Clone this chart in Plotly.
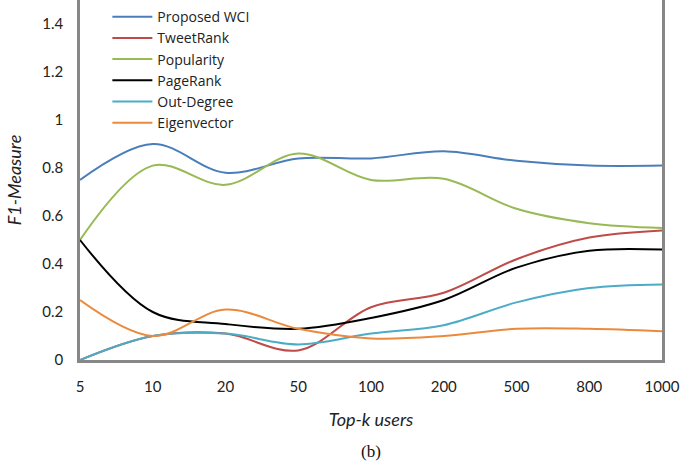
import plotly.graph_objects as go

# Top-k cut-offs on the horizontal axis
top_k = ["5", "10", "20", "50", "100", "200", "500", "800", "1000"]

# F1-measure per ranking method
proposed_wci = [0.75, 0.90, 0.78, 0.84, 0.84, 0.87, 0.83, 0.81, 0.81]
tweetrank = [0.00, 0.10, 0.11, 0.04, 0.22, 0.28, 0.42, 0.51, 0.54]
popularity = [0.50, 0.81, 0.73, 0.86, 0.75, 0.755, 0.63, 0.57, 0.55]
pagerank = [0.50, 0.20, 0.15, 0.13, 0.175, 0.25, 0.385, 0.455, 0.46]
out_degree = [0.00, 0.10, 0.11, 0.065, 0.11, 0.145, 0.24, 0.30, 0.315]
eigenvector = [0.25, 0.10, 0.21, 0.13, 0.09, 0.10, 0.13, 0.13, 0.12]

series = [
    ("Proposed WCI", proposed_wci, "#4A7EBB"),
    ("TweetRank", tweetrank, "#BE4B48"),
    ("Popularity", popularity, "#98B954"),
    ("PageRank", pagerank, "#000000"),
    ("Out-Degree", out_degree, "#4BACC6"),
    ("Eigenvector", eigenvector, "#EB8A3C"),
]

FONT = "Lato, 'Open Sans', sans-serif"
LEGEND_FONT = "'Open Sans', Lato, sans-serif"

fig = go.Figure()
for name, values, color in series:
    fig.add_trace(go.Scatter(
        x=top_k, y=values, name=name, mode="lines",
        line=dict(color=color, width=2, shape="spline", smoothing=1.0),
    ))

fig.update_layout(
    width=699, height=467,
    margin=dict(l=80, r=37, t=0, b=107),
    paper_bgcolor="white", plot_bgcolor="white",
    font=dict(family=FONT, size=15, color="#222222"),
    showlegend=True,
    legend=dict(
        x=0.047, y=0.997, xanchor="left", yanchor="top",
        bgcolor="rgba(0,0,0,0)", font=dict(family=LEGEND_FONT, size=14, color="#222222"),
        itemwidth=40, tracegroupgap=0,
    ),
    xaxis=dict(
        type="category", range=[0, 8],
        showgrid=False, zeroline=False,
        showline=True, linecolor="#878787", linewidth=2.5,
        ticks="", ticklabelstandoff=11,
        tickfont=dict(family=FONT, size=15, color="#222222"),
        title=dict(text="<i>Top-k users</i>", standoff=20,
                   font=dict(family=FONT, size=18, color="#222222")),
    ),
    yaxis=dict(
        range=[0, 1.5], dtick=0.2, tick0=0,
        showgrid=False, zeroline=False,
        showline=True, linecolor="#878787", linewidth=2.5, mirror=True,
        ticks="", ticklabelstandoff=11,
        tickfont=dict(family=FONT, size=15, color="#222222"),
        title=dict(text="<i>F1-Measure</i>", standoff=16,
                   font=dict(family=FONT, size=18, color="#222222")),
    ),
)

fig.add_annotation(
    text="(b)", xref="paper", yref="paper",
    x=0.5, y=-0.255, xanchor="center", yanchor="middle", showarrow=False,
    font=dict(family="'Liberation Serif', 'Times New Roman', serif", size=17, color="#111111"),
)

fig.write_html("out.html")
